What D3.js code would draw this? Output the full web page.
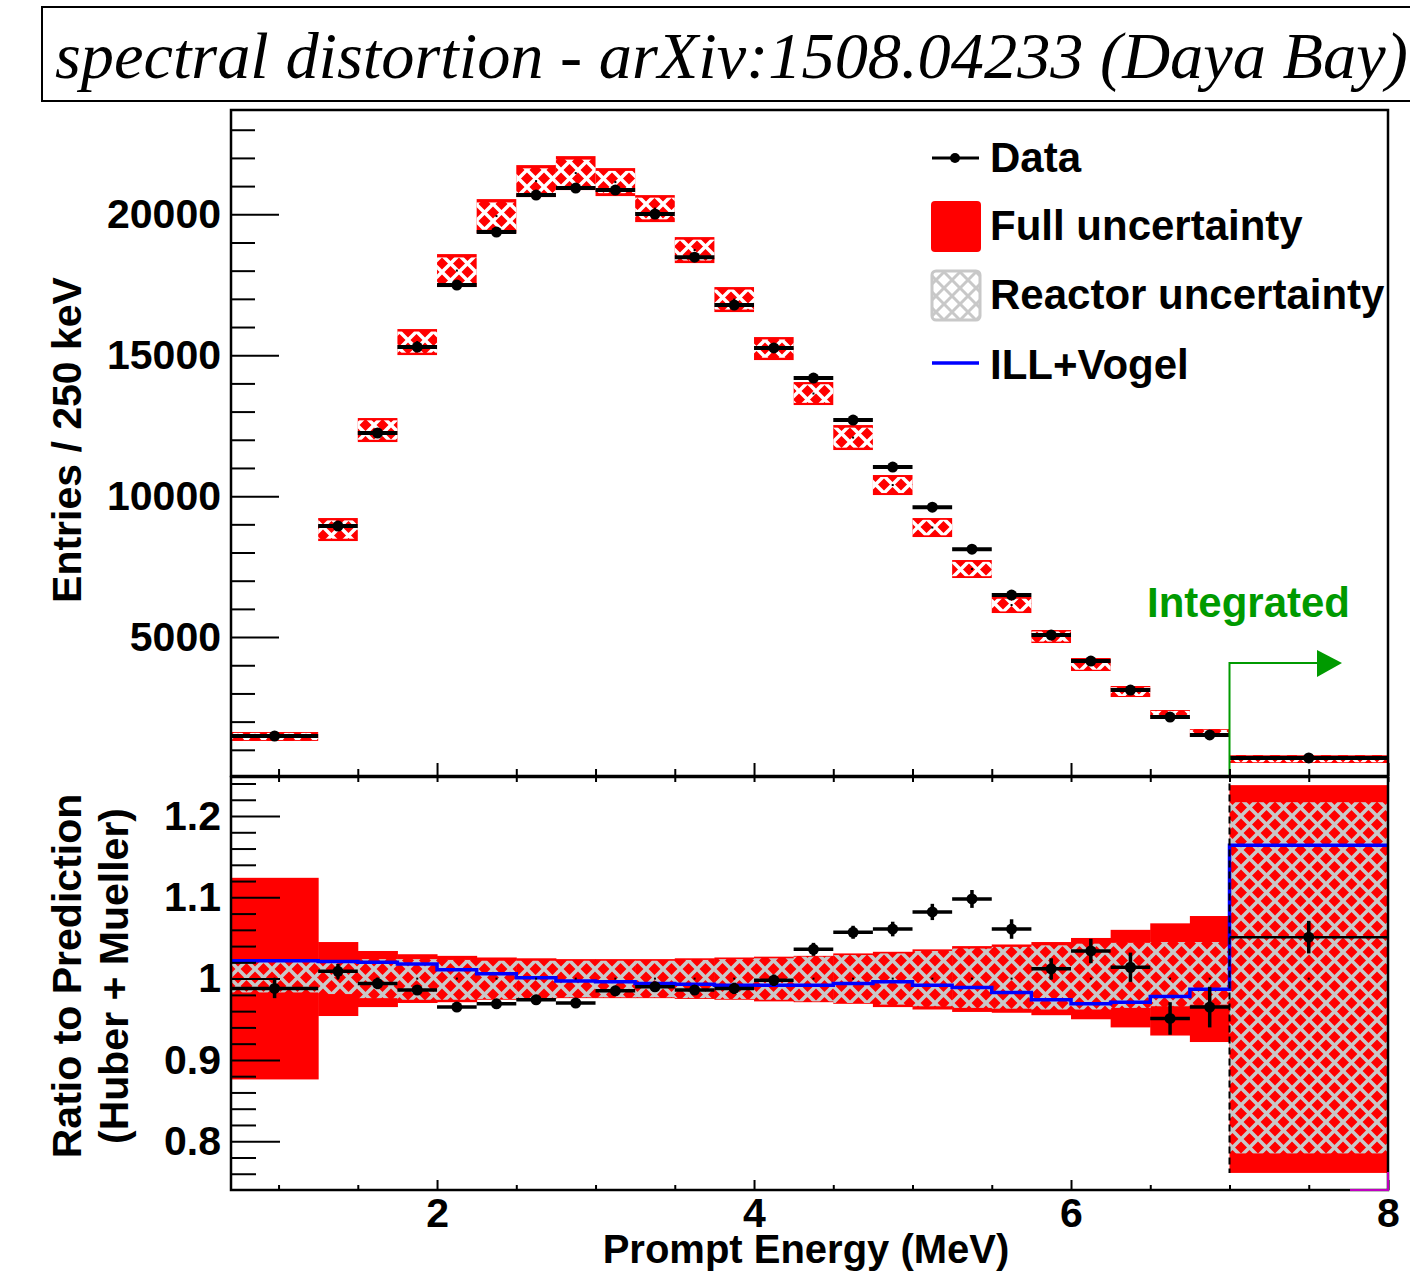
<!DOCTYPE html>
<html><head><meta charset="utf-8">
<script src="https://cdn.jsdelivr.net/npm/d3@7"></script>
<style>body{margin:0;background:#fff}</style>
</head><body>
<svg id="c" width="1410" height="1273"></svg>
<script>
// ---------- DATA ----------
const binEdges = [0.7,1.25,1.5,1.75,2.0,2.25,2.5,2.75,3.0,3.25,3.5,3.75,4.0,4.25,4.5,4.75,5.0,5.25,5.5,5.75,6.0,6.25,6.5,6.75,7.0,8.0];
// top panel: entries / 250 keV
const dataEntries = [1490,8940,12240,15290,17490,19370,20680,20930,20860,20010,18480,16780,15260,14190,12700,11030,9610,8120,6490,5070,4150,3120,2160,1530,710];
const predFullHi = [1632,9223,12771,15928,18588,20539,21745,22064,21639,20681,19191,17418,15644,14048,12522,10749,9223,7733,6421,5250,4257,3264,2412,1738,816];
const predFullLo = [1313,8407,11919,15005,17418,19333,20610,20859,20646,19723,18269,16531,14828,13232,11636,10039,8549,7095,5853,4789,3796,2873,2093,1454,532];
const predReacHi = [1600,9140,12690,15840,18470,20420,21630,21940,21540,20590,19100,17330,15560,13970,12430,10680,9160,7670,6360,5200,4210,3220,2380,1710,790];
const predReacLo = [1345,8490,12000,15090,17530,19450,20720,20980,20750,19820,18360,16620,14910,13310,11720,10110,8610,7160,5910,4840,3840,2910,2120,1480,560];
// bottom panel: ratio to prediction (Huber + Mueller)
const ratio    = [0.988,1.009,0.994,0.986,0.965,0.969,0.974,0.970,0.985,0.990,0.986,0.988,0.998,1.036,1.057,1.061,1.082,1.098,1.061,1.012,1.034,1.014,0.951,0.965,1.051];
const ratioErr = [0.012,0.009,0.007,0.006,0.006,0.006,0.006,0.006,0.006,0.006,0.006,0.007,0.007,0.008,0.008,0.009,0.010,0.011,0.012,0.013,0.015,0.018,0.020,0.025,0.020];
const fullHi = [1.124,1.045,1.034,1.030,1.028,1.026,1.025,1.024,1.024,1.024,1.025,1.026,1.027,1.028,1.031,1.033,1.036,1.040,1.042,1.045,1.050,1.060,1.068,1.077,1.238];
const fullLo = [0.876,0.954,0.965,0.970,0.971,0.974,0.975,0.976,0.976,0.976,0.975,0.974,0.972,0.971,0.969,0.965,0.962,0.959,0.958,0.955,0.950,0.940,0.930,0.922,0.761];
const reacHi = [1.021,1.021,1.024,1.024,1.023,1.022,1.022,1.022,1.022,1.022,1.023,1.024,1.025,1.027,1.029,1.031,1.034,1.037,1.039,1.041,1.043,1.044,1.045,1.045,1.217];
const reacLo = [0.983,0.981,0.976,0.974,0.974,0.975,0.976,0.977,0.977,0.977,0.976,0.975,0.974,0.972,0.970,0.968,0.966,0.964,0.963,0.962,0.962,0.964,0.966,0.968,0.785];
const illVogel = [1.022,1.021,1.020,1.018,1.011,1.006,1.001,0.997,0.996,0.994,0.993,0.992,0.992,0.992,0.994,0.996,0.992,0.989,0.983,0.974,0.969,0.971,0.978,0.987,1.164];
// ticks
const xMajor = [2,4,6,8];
const xMinor = [1,1.5,2.5,3,3.5,4.5,5,5.5,6.5,7,7.5];
const yTopMajor = [5000,10000,15000,20000];
const yTopMinor = [1000,2000,3000,4000,6000,7000,8000,9000,11000,12000,13000,14000,16000,17000,18000,19000,21000,22000,23000];
const yBotMajor = [0.8,0.9,1.0,1.1,1.2];
const yBotMinor = [0.76,0.78,0.82,0.84,0.86,0.88,0.92,0.94,0.96,0.98,1.02,1.04,1.06,1.08,1.12,1.14,1.16,1.18,1.22,1.24];
const legendLabels = ["Data","Full uncertainty","Reactor uncertainty","ILL+Vogel"];
const titleText = "spectral distortion - arXiv:1508.04233 (Daya Bay)";

// ---------- LAYOUT ----------
const L = 231, R = 1388, T1 = 110, B1 = 776, T2 = 777, B2 = 1190;
const FONT = "'Liberation Sans', Arial, Helvetica, sans-serif";
const svg = d3.select("#c");
svg.append("rect").attr("width",1410).attr("height",1273).attr("fill","#fff");

const x = d3.scaleLinear().domain([0.7,8]).range([L,R]);
const yT = d3.scaleLinear().domain([0,23700]).range([778,T1]);
const yB = d3.scaleLinear().domain([0.74,1.248]).range([B2,T2]);

const bins = d3.range(binEdges.length-1).map(i => ({i, x0:binEdges[i], x1:binEdges[i+1], xc:(binEdges[i]+binEdges[i+1])/2}));

// patterns
const defs = svg.append("defs");
function hatch(id, color, size, w){
  const p = defs.append("pattern").attr("id",id).attr("patternUnits","userSpaceOnUse")
    .attr("width",size).attr("height",size);
  p.append("path").attr("d",`M0,0L${size},${size}M${size},0L0,${size}M-3,${size-3}L3,${size+3}M${size-3},-3L${size+3},3M-3,3L3,-3M${size-3},${size+3}L${size+3},${size-3}`)
    .attr("stroke",color).attr("stroke-width",w).attr("fill","none");
}
hatch("hTop","#ffffff",17,3.5);
hatch("hBot","#c8c8c8",17,3.6);
hatch("hLeg","#c8c8c8",16,3);
defs.append("clipPath").attr("id","cTop").append("rect").attr("x",L).attr("y",T1).attr("width",R-L).attr("height",B1-T1);
defs.append("clipPath").attr("id","cBot").append("rect").attr("x",L).attr("y",T2).attr("width",R-L).attr("height",B2-T2);

// ---------- TITLE ----------
svg.append("rect").attr("x",42).attr("y",7).attr("width",1400).attr("height",94)
  .attr("fill","#fff").attr("stroke","#000").attr("stroke-width",2);
const tt = svg.append("text").attr("x",55).attr("y",78).text(titleText)
  .attr("font-family","'Liberation Serif','Times New Roman',serif").attr("font-style","italic")
  .attr("font-size",62).attr("fill","#000");
const tw = tt.node().getComputedTextLength();
tt.attr("font-size", 62*1353/tw);

// ---------- TOP PANEL ----------
const gT = svg.append("g").attr("clip-path","url(#cTop)");
gT.selectAll("rect.full").data(bins).join("rect").attr("class","full")
  .attr("x",d=>x(d.x0)).attr("width",d=>x(d.x1)-x(d.x0))
  .attr("y",d=>yT(predFullHi[d.i])).attr("height",d=>yT(predFullLo[d.i])-yT(predFullHi[d.i]))
  .attr("fill","#ff0000");
gT.selectAll("rect.reac").data(bins).join("rect").attr("class","reac")
  .attr("x",d=>x(d.x0)).attr("width",d=>x(d.x1)-x(d.x0))
  .attr("y",d=>yT(predReacHi[d.i])).attr("height",d=>yT(predReacLo[d.i])-yT(predReacHi[d.i]))
  .attr("fill","url(#hTop)");
gT.selectAll("rect.pdot").data(bins).join("rect").attr("class","pdot")
  .attr("x",d=>x(d.xc)-1).attr("y",d=>yT((predFullHi[d.i]+predFullLo[d.i])/2)-1)
  .attr("width",2).attr("height",2).attr("fill","#000");
gT.selectAll("line.hbar").data(bins).join("line").attr("class","hbar")
  .attr("x1",d=>x(d.x0)).attr("x2",d=>x(d.x1))
  .attr("y1",d=>yT(dataEntries[d.i])).attr("y2",d=>yT(dataEntries[d.i]))
  .attr("stroke","#000").attr("stroke-width",4);
gT.selectAll("circle.pt").data(bins).join("circle").attr("class","pt")
  .attr("cx",d=>x(d.xc)).attr("cy",d=>yT(dataEntries[d.i])).attr("r",5.5).attr("fill","#000");

// Integrated arrow
const green = "#009a00";
svg.append("path").attr("d",`M${x(7)},${B1}V663H1318`).attr("fill","none").attr("stroke",green).attr("stroke-width",2);
svg.append("path").attr("d","M1317,650L1342,663L1317,677Z").attr("fill",green);
svg.append("text").attr("x",1147).attr("y",617).text("Integrated")
  .attr("font-family",FONT).attr("font-weight","bold").attr("font-size",42).attr("fill",green);

// top axes
function styleAxis(g){ g.select(".domain").remove(); g.selectAll("line").attr("stroke","#000").attr("stroke-width",2);
  g.selectAll("text").attr("font-family",FONT).attr("font-weight","bold").attr("font-size",41).attr("fill","#000"); }
svg.append("g").attr("transform",`translate(${L},0)`)
  .call(d3.axisLeft(yT).tickValues(yTopMajor).tickSize(-48).tickPadding(10).tickFormat(d3.format("d"))).call(styleAxis);
svg.append("g").attr("transform",`translate(${L},0)`)
  .call(d3.axisLeft(yT).tickValues(yTopMinor).tickSize(-24).tickFormat("")).call(styleAxis);
svg.append("g").attr("transform",`translate(0,${B1})`)
  .call(d3.axisBottom(x).tickValues(xMajor).tickSize(-13).tickFormat("")).call(styleAxis);
svg.append("g").attr("transform",`translate(0,${B1})`)
  .call(d3.axisBottom(x).tickValues(xMinor).tickSize(-7).tickFormat("")).call(styleAxis);
svg.append("rect").attr("x",L).attr("y",T1).attr("width",R-L).attr("height",B1-T1)
  .attr("fill","none").attr("stroke","#000").attr("stroke-width",2.5);

// legend
const lg = svg.append("g");
lg.append("line").attr("x1",932).attr("x2",979).attr("y1",158).attr("y2",158).attr("stroke","#000").attr("stroke-width",3);
lg.append("circle").attr("cx",955).attr("cy",158).attr("r",5).attr("fill","#000");
lg.append("rect").attr("x",931).attr("y",201).attr("width",50).attr("height",51).attr("rx",4).attr("fill","#ff0000");
lg.append("rect").attr("x",932).attr("y",271).attr("width",48).attr("height",49).attr("rx",4).attr("fill","#fff");
lg.append("rect").attr("x",932).attr("y",271).attr("width",48).attr("height",49).attr("rx",4)
  .attr("fill","url(#hLeg)").attr("stroke","#c8c8c8").attr("stroke-width",3);
lg.append("line").attr("x1",932).attr("x2",979).attr("y1",363).attr("y2",363).attr("stroke","#0000ff").attr("stroke-width",3.5);
lg.selectAll("text").data(legendLabels).join("text")
  .attr("x",990).attr("y",(d,i)=>[172,240,309,379][i]).text(d=>d)
  .attr("font-family",FONT).attr("font-weight","bold").attr("font-size",42).attr("fill","#000");

// ---------- BOTTOM PANEL ----------
const gB = svg.append("g").attr("clip-path","url(#cBot)");
gB.selectAll("rect.full").data(bins).join("rect").attr("class","full")
  .attr("x",d=>x(d.x0)).attr("width",d=>x(d.x1)-x(d.x0)+0.5)
  .attr("y",d=>yB(fullHi[d.i])).attr("height",d=>yB(fullLo[d.i])-yB(fullHi[d.i]))
  .attr("fill","#ff0000");
gB.selectAll("rect.reac").data(bins).join("rect").attr("class","reac")
  .attr("x",d=>x(d.x0)).attr("width",d=>x(d.x1)-x(d.x0)+0.5)
  .attr("y",d=>yB(reacHi[d.i])).attr("height",d=>yB(reacLo[d.i])-yB(reacHi[d.i]))
  .attr("fill","url(#hBot)");
const stepPts = [];
bins.forEach(d => { stepPts.push([x(d.x0), yB(illVogel[d.i])]); stepPts.push([x(d.x1), yB(illVogel[d.i])]); });
gB.append("path").attr("d",d3.line()(stepPts)).attr("fill","none").attr("stroke","#0000ff").attr("stroke-width",3.5);
gB.selectAll("rect.odot").data(bins).join("rect").attr("class","odot")
  .attr("x",d=>x(d.xc)-1).attr("y",yB(1)-1).attr("width",2).attr("height",2).attr("fill","#000");
gB.append("line").attr("x1",x(7)).attr("x2",x(7)).attr("y1",yB(1.24)).attr("y2",yB(0.761))
  .attr("stroke","#000").attr("stroke-width",2).attr("stroke-dasharray","7,4");
gB.selectAll("line.hbar").data(bins).join("line").attr("class","hbar")
  .attr("x1",d=>x(d.x0)).attr("x2",d=>x(d.x1))
  .attr("y1",d=>yB(ratio[d.i])).attr("y2",d=>yB(ratio[d.i]))
  .attr("stroke","#000").attr("stroke-width",d=>d.i===24?2.5:3.5);
gB.selectAll("line.vbar").data(bins).join("line").attr("class","vbar")
  .attr("x1",d=>x(d.xc)).attr("x2",d=>x(d.xc))
  .attr("y1",d=>yB(ratio[d.i]+ratioErr[d.i])).attr("y2",d=>yB(ratio[d.i]-ratioErr[d.i]))
  .attr("stroke","#000").attr("stroke-width",3.5);
gB.selectAll("circle.pt").data(bins).join("circle").attr("class","pt")
  .attr("cx",d=>x(d.xc)).attr("cy",d=>yB(ratio[d.i])).attr("r",5.5).attr("fill","#000");

// bottom axes
svg.append("g").attr("transform",`translate(${L},0)`)
  .call(d3.axisLeft(yB).tickValues(yBotMajor).tickSize(-49).tickPadding(10).tickFormat(d=>String(+d.toFixed(2)))).call(styleAxis);
svg.append("g").attr("transform",`translate(${L},0)`)
  .call(d3.axisLeft(yB).tickValues(yBotMinor).tickSize(-25).tickFormat("")).call(styleAxis);
svg.append("g").attr("transform",`translate(0,${B2})`)
  .call(d3.axisBottom(x).tickValues(xMajor).tickSize(-10).tickPadding(8)).call(styleAxis);
svg.append("g").attr("transform",`translate(0,${B2})`)
  .call(d3.axisBottom(x).tickValues(xMinor).tickSize(-5).tickFormat("")).call(styleAxis);
svg.append("g").attr("transform",`translate(0,${T2})`)
  .call(d3.axisTop(x).tickValues(xMajor.concat(xMinor)).tickSize(-5).tickFormat("")).call(styleAxis);
svg.append("rect").attr("x",L).attr("y",T2).attr("width",R-L).attr("height",B2-T2)
  .attr("fill","none").attr("stroke","#000").attr("stroke-width",2.5);
svg.append("path").attr("d",`M1350,${B2}H${R}V1172`).attr("fill","none").attr("stroke","#c000c0").attr("stroke-width",2);

// axis titles
function txt(s, xx, yy, rot, anchor, fs){
  return svg.append("text").attr("transform",`translate(${xx},${yy})`+(rot?` rotate(${rot})`:""))
    .attr("text-anchor",anchor||"middle").text(s)
    .attr("font-family",FONT).attr("font-weight","bold").attr("font-size",fs||41).attr("fill","#000");
}
txt("Entries / 250 keV", 81, 440, -90);
txt("Ratio to Prediction", 81, 976, -90);
txt("(Huber + Mueller)", 128, 976, -90);
txt("Prompt Energy (MeV)", 806, 1263, 0, "middle", 40);
</script>
</body></html>
